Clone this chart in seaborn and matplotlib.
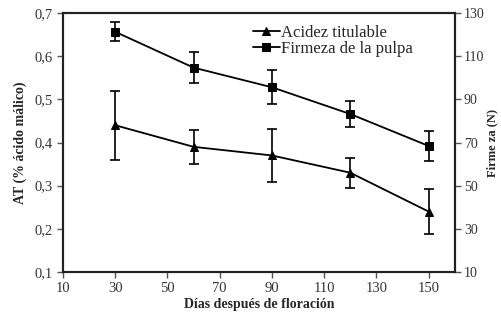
import numpy as np
import pandas as pd
import matplotlib
matplotlib.use("Agg")
import matplotlib.pyplot as plt
import seaborn as sns

# Data
dias = [30, 60, 90, 120, 150]
acidez = [0.44, 0.39, 0.37, 0.33, 0.24]
acidez_err = [0.08, 0.04, 0.062, 0.035, 0.052]
firmeza = [121.3, 104.7, 95.6, 83.2, 68.4]
firmeza_err = [4.4, 7.3, 7.8, 5.9, 6.8]

x_ticks = [10, 30, 50, 70, 90, 110, 130, 150]
at_ticks = [0.1, 0.2, 0.3, 0.4, 0.5, 0.6, 0.7]
firm_ticks = [10, 30, 50, 70, 90, 110, 130]

sns.set_style("ticks")
plt.rcParams["font.family"] = ["Liberation Serif", "DejaVu Serif"]

fig = plt.figure(figsize=(5.01, 3.18), dpi=100)
ax = fig.add_axes([0.1257, 0.1447, 0.782, 0.8143])
ax2 = ax.twinx()

df_at = pd.DataFrame({"dias": dias, "val": acidez})
df_fi = pd.DataFrame({"dias": dias, "val": firmeza})

sns.lineplot(data=df_at, x="dias", y="val", ax=ax, color="black", lw=1.3,
             marker="^", markersize=6, markeredgecolor="black",
             label="Acidez titulable", legend=False)
ax.errorbar(dias, acidez, yerr=acidez_err, fmt="none", ecolor="black",
            elinewidth=1.2, capsize=3.5, capthick=1.2)

sns.lineplot(data=df_fi, x="dias", y="val", ax=ax2, color="black", lw=1.3,
             marker="s", markersize=6, markeredgecolor="black",
             label="Firmeza de la pulpa", legend=False)
ax2.errorbar(dias, firmeza, yerr=firmeza_err, fmt="none", ecolor="black",
             elinewidth=1.2, capsize=3.5, capthick=1.2)

ax.set_xlim(10, 160)
ax.set_ylim(0.1, 0.7)
ax2.set_ylim(10, 130)
ax.set_xticks(x_ticks)
ax.set_xticklabels([str(t) for t in x_ticks])
ax.set_yticks(at_ticks)
ax.set_yticklabels([f"{t:.1f}".replace(".", ",") for t in at_ticks])
ax2.set_yticks(firm_ticks)
ax2.set_yticklabels([str(t) for t in firm_ticks])

for a in (ax, ax2):
    a.tick_params(direction="out", length=4, width=1, colors="#555555",
                  labelcolor="#333333", labelsize=10.5)
    for s in a.spines.values():
        s.set_linewidth(1.5)
        s.set_color("#222222")
ax2.tick_params(labelsize=10, pad=2.5)

ax.set_xlabel("Días después de floración", fontsize=10, fontweight="bold", labelpad=2)
ax.set_ylabel("AT (% ácido málico)", fontsize=10, fontweight="bold", labelpad=5)
ax2.set_ylabel("Firme za (N)", fontsize=9, fontweight="bold", labelpad=1)

h1, l1 = ax.get_legend_handles_labels()
h2, l2 = ax2.get_legend_handles_labels()
ax2.legend(h1 + h2, l1 + l2, loc="upper left", bbox_to_anchor=(0.455, 0.998),
           frameon=False, fontsize=12, handlelength=1.6, handletextpad=0.1,
           borderaxespad=0.3, labelspacing=0.0)

fig.savefig("out.png", dpi=100)
